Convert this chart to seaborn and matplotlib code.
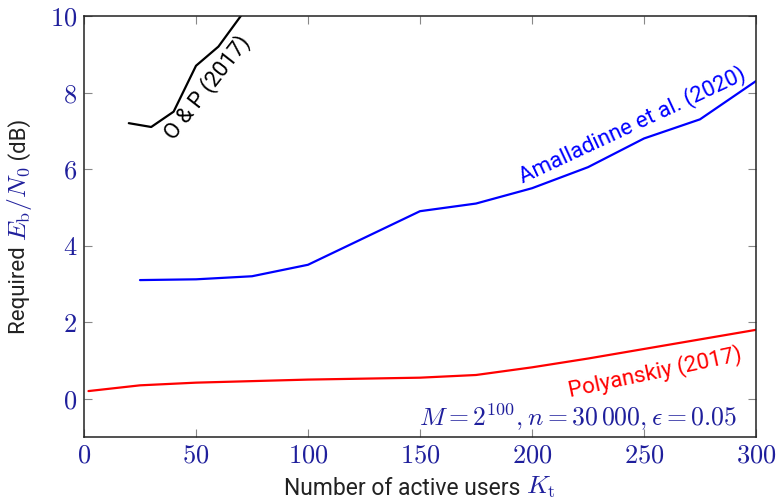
import numpy as np
import pandas as pd
import seaborn as sns
import matplotlib.pyplot as plt

# DATA
op_k = [20, 30, 40, 50, 60, 70, 80]
op_ebn0 = [7.2, 7.1, 7.5, 8.7, 9.2, 10.0, 10.8]

amal_k = [25, 50, 75, 100, 125, 150, 175, 200, 225, 250, 275, 300]
amal_ebn0 = [3.1, 3.12, 3.2, 3.5, 4.2, 4.9, 5.1, 5.5, 6.05, 6.8, 7.3, 8.3]

poly_k = [2, 25, 50, 100, 150, 175, 200, 225, 250, 275, 300]
poly_ebn0 = [0.2, 0.35, 0.42, 0.5, 0.55, 0.62, 0.82, 1.05, 1.3, 1.55, 1.8]

x_ticks = [0, 50, 100, 150, 200, 250, 300]
y_ticks = [0, 2, 4, 6, 8, 10]

# SETTING
tick_blue = "#1f1f9c"
sans = ['Roboto', 'DejaVu Sans']
sns.set_theme(style="white")
plt.rcParams['font.family'] = sans
plt.rcParams['mathtext.fontset'] = 'cm'

fig = plt.figure(figsize=(7.77, 5), dpi=100)
ax = fig.add_axes([84 / 777, 1 - 437 / 500, (756 - 84) / 777, (437 - 16) / 500])

sns.lineplot(x=op_k, y=op_ebn0, ax=ax, color="black", linewidth=1.6, sort=False)
sns.lineplot(x=amal_k, y=amal_ebn0, ax=ax, color="blue", linewidth=1.6)
sns.lineplot(x=poly_k, y=poly_ebn0, ax=ax, color="red", linewidth=1.6)

ax.set_xlim(0, 300)
ax.set_ylim(-1, 10)
ax.set_xticks(x_ticks, ["$%d$" % v for v in x_ticks])
ax.set_yticks(y_ticks, ["$%d$" % v for v in y_ticks])
ax.tick_params(direction="in", length=6, width=0.8, color="#888888",
               bottom=True, left=True, top=True, right=True,
               labelsize=19, labelcolor=tick_blue, pad=5)
for s in ax.spines.values():
    s.set_color("#222222")
    s.set_linewidth(1.1)

# CURVE LABELS
ax.text(54.9, 8.12, "O & P (2017)", rotation=52, ha="center", va="center",
        fontsize=16, color="black")
ax.text(245, 7.15, "Amalladinne et al. (2020)", rotation=25, ha="center", va="center",
        fontsize=16, color="blue")
ax.text(255, 0.70, "Polyanskiy (2017)", rotation=12, ha="center", va="center",
        fontsize=16, color="red")
ax.text(291.5, -0.5, r"$M = 2^{100}, n = 30\,000, \epsilon = 0.05$", ha="right", va="center",
        fontsize=18.5, color=tick_blue)

# AXIS LABELS (mixed colours)
t1 = fig.text(283 / 777, 1 - 495 / 500, "Number of active users ", fontsize=16.5,
              color="#222222", ha="left", va="baseline")
t2 = ax.annotate(r"$K_\mathrm{t}$", xycoords=t1, xy=(1, 0), va="bottom", ha="left",
                 fontsize=18.5, color=tick_blue, annotation_clip=False)

u1 = fig.text(20 / 777, 0.5, "Required ", fontsize=16, rotation=90,
              color="#222222", ha="center", va="bottom")
u2 = ax.annotate(r"$E_\mathrm{b}/N_0$", xycoords=u1, xy=(0.5, 1), va="bottom", ha="center",
                 rotation=90, fontsize=18.5, color=tick_blue, annotation_clip=False)
u3 = ax.annotate(" (dB)", xycoords=u2, xy=(0.5, 1), va="bottom", ha="center",
                 rotation=90, fontsize=16, color="#222222", annotation_clip=False)

# centre both labels on the axes, like pgfplots does
fig.canvas.draw()
r = fig.canvas.get_renderer()
w = t2.get_window_extent(r).x1 - t1.get_window_extent(r).x0
t1.set_x((420 - w / 2) / 777)
h = u3.get_window_extent(r).y1 - u1.get_window_extent(r).y0
u1.set_y((500 - 226.5 - h / 2) / 500)

plt.savefig("out.png", dpi=100)
plt.close()
